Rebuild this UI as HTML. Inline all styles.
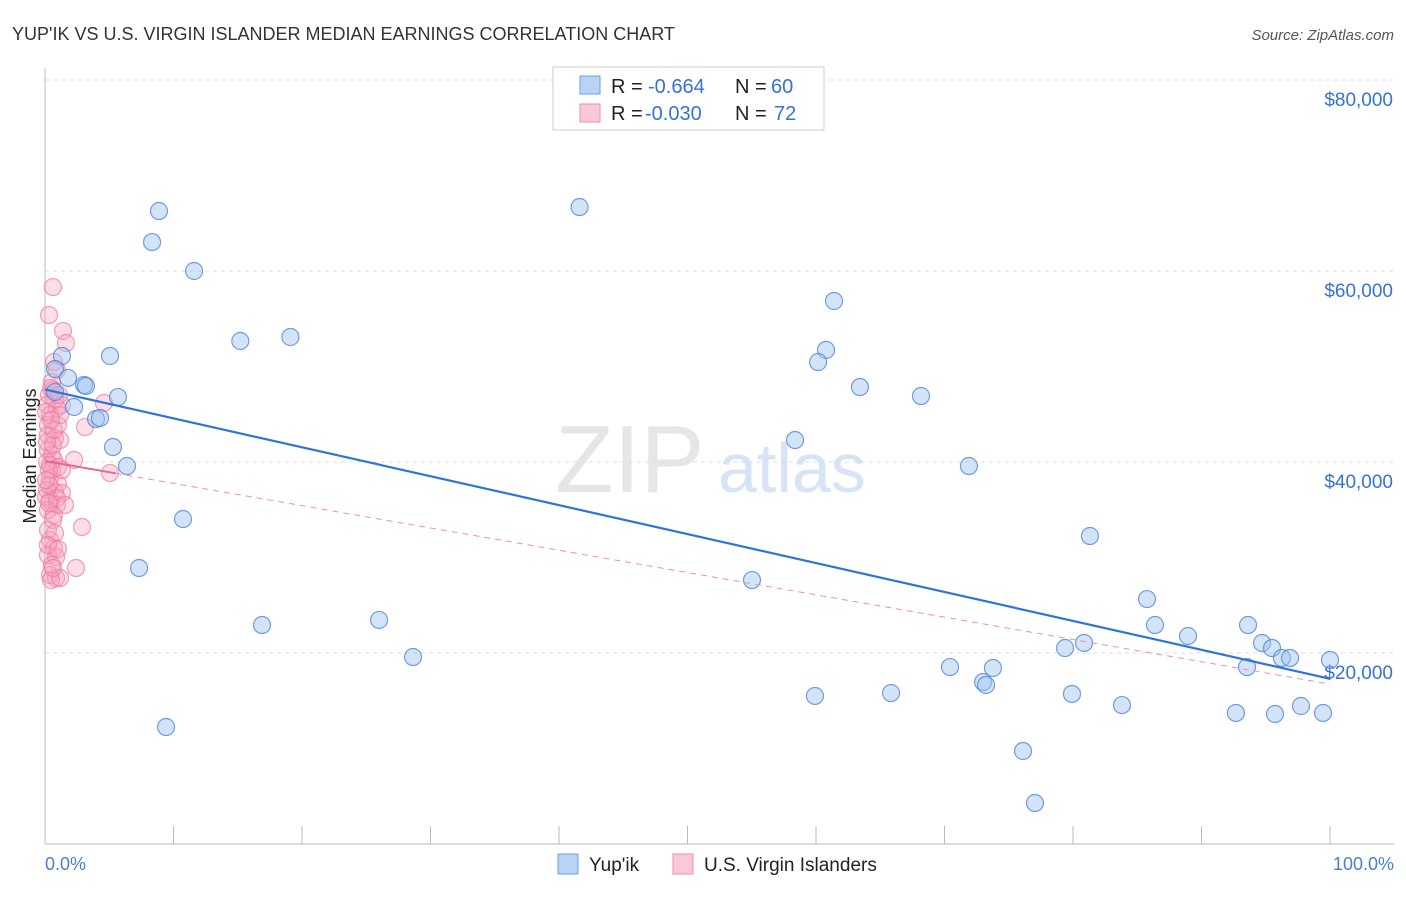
<!DOCTYPE html>
<html><head><meta charset="utf-8"><style>
body{margin:0;background:#fff;font-family:"Liberation Sans",sans-serif}
svg text{font-family:"Liberation Sans",sans-serif}
</style></head><body>
<svg width="1406" height="892">
<text x="12" y="40" font-size="18" fill="#333">YUP'IK VS U.S. VIRGIN ISLANDER MEDIAN EARNINGS CORRELATION CHART</text>
<text x="1394" y="40" font-size="15" fill="#555" text-anchor="end" font-style="italic">Source: ZipAtlas.com</text>
<text x="555" y="492" font-size="96" fill="#e6e6e6" font-family="Liberation Serif">ZIP</text>
<text x="718" y="492" font-size="70" fill="#d6e4f5">atlas</text>
<g id="grid"></g><g id="axes"></g><g id="lines"></g><g id="pts"></g>
<text x="36" y="456" font-size="18" fill="#222" text-anchor="middle" transform="rotate(-90 36 456)">Median Earnings</text>
<text x="45" y="870" font-size="18" fill="#4a7fd0">0.0%</text>
<text x="1394" y="870" font-size="18" fill="#4a7fd0" text-anchor="end">100.0%</text>
<g>
<rect x="553" y="67" width="271" height="63" fill="#fff" stroke="#ccc"/>
<rect x="580" y="76" width="20" height="18" fill="#b8d3f5" stroke="#6a9fe0"/>
<rect x="580" y="104" width="20" height="18" fill="#fbc8d7" stroke="#ee8fab"/>
<text x="611" y="93" font-size="20" fill="#222">R =</text>
<text x="648" y="93" font-size="20" fill="#3572d8">-0.664</text>
<text x="735" y="93" font-size="20" fill="#222">N =</text>
<text x="771" y="93" font-size="20" fill="#3572d8">60</text>
<text x="611" y="120" font-size="20" fill="#222">R =</text>
<text x="645" y="120" font-size="20" fill="#3572d8">-0.030</text>
<text x="735" y="120" font-size="20" fill="#222">N =</text>
<text x="774" y="120" font-size="20" fill="#3572d8">72</text>
</g>
<g>
<rect x="558" y="854" width="20" height="20" fill="#b8d3f5" stroke="#6a9fe0"/>
<text x="589" y="871" font-size="19" fill="#222">Yup'ik</text>
<rect x="673" y="854" width="20" height="20" fill="#fbc8d7" stroke="#ee8fab"/>
<text x="704" y="871" font-size="19" fill="#222">U.S. Virgin Islanders</text>
</g>
</svg>
<script>
const yTicks=[20000,40000,60000,80000];
const yTickLabels=["$20,000","$40,000","$60,000","$80,000"];
const blueX=[8.87,8.33,11.6,41.6,15.2,19.1,5.06,1.32,0.78,1.79,3.04,3.19,5.68,2.26,3.97,4.28,5.29,6.38,10.74,7.32,16.89,26.0,28.64,9.42,61.4,60.78,60.16,63.42,68.17,58.37,71.9,55.02,81.32,85.76,86.38,88.95,93.62,94.71,95.49,96.26,96.89,100,93.54,79.38,80.86,70.43,73.77,73.0,73.23,59.92,65.84,79.92,83.81,97.74,92.68,95.72,99.46,76.11,77.04,0.78];
const blueY=[66.28,63.03,60.0,66.7,52.67,53.09,51.1,51.1,49.74,48.8,48.06,47.96,46.8,45.76,44.5,44.61,41.57,39.58,34.03,28.9,22.93,23.46,19.58,12.25,56.86,51.73,50.47,47.85,46.91,42.3,39.58,27.64,32.25,25.65,22.93,21.78,22.93,21.05,20.52,19.48,19.48,19.27,18.53,20.52,21.05,18.53,18.43,16.96,16.65,15.5,15.81,15.71,14.55,14.45,13.72,13.61,13.72,9.74,4.29,47.33];
const pinkX=[0.62,0.31,1.4,1.63,0.7,0.93,0.54,0.62,0.31,0.78,0.16,0.93,1.32,4.59,0.39,0.23,3.11,0.23,0.78,1.17,0.23,0.54,0.7,0.16,2.26,0.39,5.06,1.01,0.39,1.01,0.16,0.78,1.32,0.39,0.93,0.23,0.7,2.88,0.39,0.7,0.23,0.86,2.41,0.39,0.86,0.47,1.17,0.62,0.08,0.54,1.01,0.62,0.31,1.17,0.08,0.47,1.09,0.23,0.78,0.54,0.23,0.93,0.31,1.32,0.16,0.7,0.47,1.56,0.62,0.31,1.01,0.08];
const pinkY=[58.32,55.39,53.72,52.46,50.47,49.63,48.38,47.54,47.02,46.49,45.97,45.65,45.97,46.18,44.92,43.87,43.66,42.83,42.51,42.3,41.26,40.73,40.21,40.0,40.21,39.69,38.85,39.48,38.32,37.7,37.07,36.86,36.75,36.02,35.5,34.97,34.45,33.19,31.83,30.99,30.26,30.05,28.9,28.17,27.85,27.64,27.85,33.93,36.33,39.16,43.87,41.78,39.16,44.92,45.24,47.75,47.02,32.88,32.57,29.21,31.31,36.23,37.59,39.16,42.09,43.35,44.4,35.5,28.9,35.71,30.89,38.11];
const blueTrend=[47.6,17.3];
const pinkTrend=[40.1,16.75];
const pinkSolidEnd=5.5;
const NS="http://www.w3.org/2000/svg";
const X=v=>45+v*12.85, Y=k=>653-(k-20)*9.55;
function mk(t,a,p){const e=document.createElementNS(NS,t);for(const k in a)e.setAttribute(k,a[k]);document.getElementById(p).appendChild(e);return e;}
yTicks.forEach((t,i)=>{const y=Y(t/1000);
const g=mk('line',{x1:45,x2:1394,y1:y,y2:y,stroke:'#ddd','stroke-dasharray':'4,4'},'grid');


const tx=mk('text',{x:1393,y:y+26,'font-size':19,fill:'#3572d8','text-anchor':'end'},'grid');tx.textContent=yTickLabels[i];

});
const ax=mk('line',{x1:45,x2:45,y1:68,y2:844,stroke:'#bbb'},'axes');


const bx=mk('line',{x1:45,x2:1394,y1:844,y2:844,stroke:'#bbb'},'axes');


for(let i=0;i<=10;i++){const t=mk('line',{x1:X(i*10),x2:X(i*10),y1:826,y2:844,stroke:'#bbb'},'axes');

}
pinkX.forEach((v,i)=>{const c=mk('circle',{cx:X(v),cy:Y(pinkY[i]),r:8.5,fill:'rgba(247,160,188,0.35)',stroke:'rgba(236,120,156,0.7)','stroke-width':1.2},'pts');

});
blueX.forEach((v,i)=>{const c=mk('circle',{cx:X(v),cy:Y(blueY[i]),r:8.5,fill:'rgba(160,196,240,0.45)',stroke:'rgba(80,135,215,0.8)','stroke-width':1.2},'pts');

});
const pk=v=>pinkTrend[0]+(pinkTrend[1]-pinkTrend[0])*v/100;
const pd=mk('line',{x1:X(pinkSolidEnd),y1:Y(pk(pinkSolidEnd)),x2:X(100),y2:Y(pinkTrend[1]),stroke:'#ee8fab','stroke-width':1,'stroke-dasharray':'6,5'},'lines');


const ps=mk('line',{x1:X(0),y1:Y(pinkTrend[0]),x2:X(pinkSolidEnd),y2:Y(pk(pinkSolidEnd)),stroke:'#e9668e','stroke-width':2},'lines');


const bl=mk('line',{x1:X(0),y1:Y(blueTrend[0]),x2:X(100),y2:Y(blueTrend[1]),stroke:'#2f74d8','stroke-width':2.2},'lines');


document.getElementById('lines').parentNode.appendChild(document.getElementById('lines'));
</script>
</body></html>
